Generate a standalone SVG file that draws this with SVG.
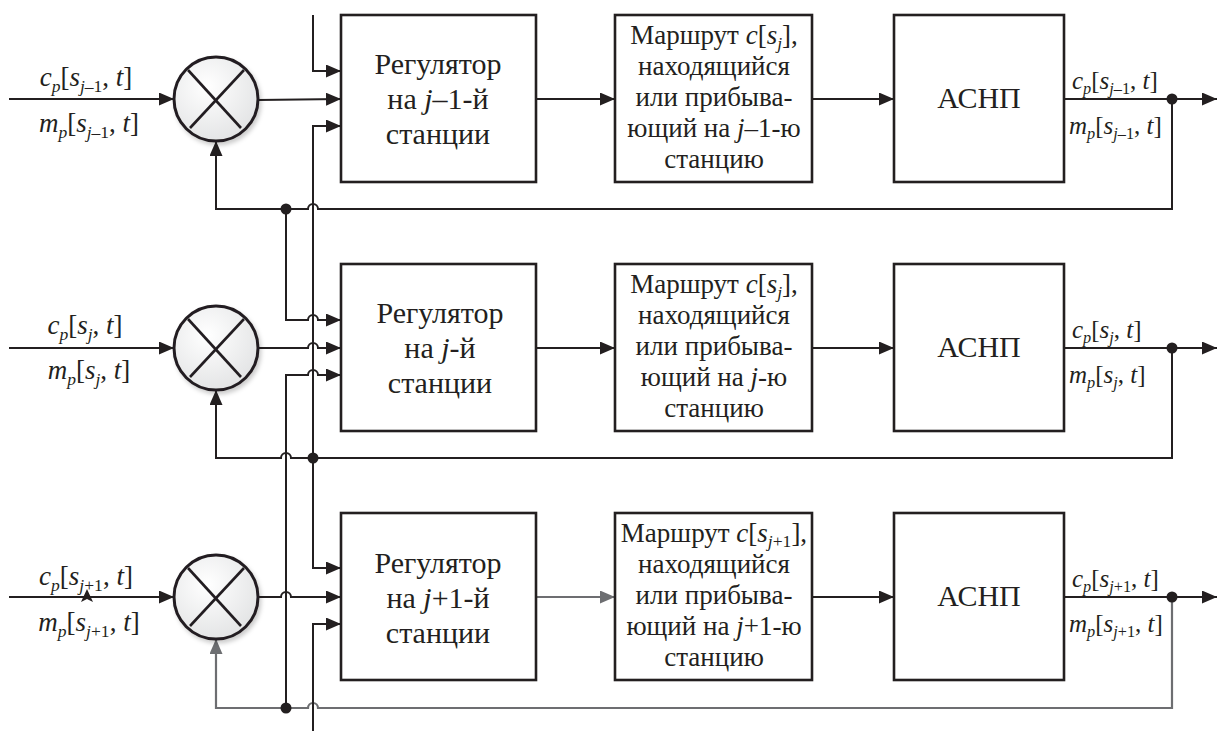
<svg xmlns="http://www.w3.org/2000/svg" width="1217" height="731" viewBox="0 0 1217 731">
<style>
.ln{fill:none;stroke:#231f20;stroke-width:2}
.gr{fill:none;stroke:#6d6e71;stroke-width:2.2}
.box{fill:#fff;stroke:#231f20;stroke-width:2.6}
.sum{fill:url(#sg);stroke:#231f20;stroke-width:3}
.x{stroke:#231f20;stroke-width:2.6}
.dot{fill:#231f20}
text{font-family:"Liberation Serif","Times New Roman",serif;fill:#231f20}
.reg{font-size:30px;text-anchor:middle}
.rt{font-size:27px;text-anchor:middle}
.as{font-size:30px;text-anchor:middle}
.lb{font-size:27px;text-anchor:middle}
.ob{font-size:25px}
.i{font-style:italic}
.sub{font-size:65%}
</style>
<defs>
<radialGradient id="sg" cx="40%" cy="35%" r="70%">
<stop offset="0" stop-color="#ffffff"/>
<stop offset="1" stop-color="#e2e3e4"/>
</radialGradient>
<filter id="sh" x="-20%" y="-20%" width="150%" height="150%">
<feDropShadow dx="2" dy="3" stdDeviation="2" flood-color="#000" flood-opacity="0.2"/>
</filter>
<marker id="a" markerUnits="userSpaceOnUse" markerWidth="15" markerHeight="13" refX="15" refY="6.5" orient="auto">
<path d="M0,0 L15,6.5 L0,13 z" fill="#231f20"/>
</marker>
<marker id="ag" markerUnits="userSpaceOnUse" markerWidth="15" markerHeight="13" refX="15" refY="6.5" orient="auto">
<path d="M0,0 L15,6.5 L0,13 z" fill="#6d6e71"/>
</marker>
</defs>
<rect width="1217" height="731" fill="#fff"/>

<g id="connectors">
<path class="ln" d="M9,99 H174" marker-end="url(#a)"/>
<path class="ln" d="M258,100 L341,99" marker-end="url(#a)"/>
<path class="ln" d="M536,99 H615" marker-end="url(#a)"/>
<path class="ln" d="M812,99 H894" marker-end="url(#a)"/>
<path class="ln" d="M1064,99 H1217" marker-end="url(#a)"/>
<path class="ln" d="M1172,99 V209 H318 A5,5 0 0 0 308,209 H216 V141" marker-end="url(#a)"/>
<path class="ln" d="M9,348 H174" marker-end="url(#a)"/>
<path class="ln" d="M258,348 H308 A5,5 0 0 1 318,348 H341" marker-end="url(#a)"/>
<path class="ln" d="M536,348 H615" marker-end="url(#a)"/>
<path class="ln" d="M812,348 H894" marker-end="url(#a)"/>
<path class="ln" d="M1064,348 H1217" marker-end="url(#a)"/>
<path class="ln" d="M1172,348 V458 H291 A5,5 0 0 0 281,458 H216 V390" marker-end="url(#a)"/>
<path class="ln" d="M9,597 H174" marker-end="url(#a)"/>
<polygon points="87,589 93,602 87,599 81,602" fill="#231f20"/>
<path class="ln" d="M258,597 H281 A5,5 0 0 1 291,597 H341" marker-end="url(#a)"/>
<path class="gr" d="M536,597 H615" marker-end="url(#ag)"/>
<path class="ln" d="M812,597 H894" marker-end="url(#a)"/>
<path class="ln" d="M1064,597 H1217" marker-end="url(#a)"/>
<path class="gr" d="M1172,597 V708 H318 A5,5 0 0 0 308,708 H216 V639" marker-end="url(#ag)"/>
<path class="ln" d="M313,15 V71 H341" marker-end="url(#a)"/>
<path class="ln" d="M313,458 V126 H341" marker-end="url(#a)"/>
<path class="ln" d="M313,458 V568 H341" marker-end="url(#a)"/>
<path class="ln" d="M286,209 V320 H308 A5,5 0 0 1 318,320 H341" marker-end="url(#a)"/>
<path class="ln" d="M286,708 V375 H308 A5,5 0 0 1 318,375 H341" marker-end="url(#a)"/>
<path class="ln" d="M313,731 V624 H341" marker-end="url(#a)"/>
<circle class="dot" cx="1172" cy="99" r="5.5"/>
<circle class="dot" cx="1172" cy="348" r="5.5"/>
<circle class="dot" cx="1172" cy="597" r="5.5"/>
<circle class="dot" cx="286" cy="209" r="5.5"/>
<circle class="dot" cx="313" cy="458" r="5.5"/>
<circle class="dot" cx="286" cy="708" r="5.5"/>
</g>

<g id="labels">
<text class="lb" x="86" y="86"><tspan class="i">c</tspan><tspan class="sub i" dy="6">p</tspan><tspan dy="-6">[</tspan><tspan class="i">s</tspan><tspan class="sub" dy="6"><tspan class="i">j</tspan>–1</tspan><tspan dy="-6">, </tspan><tspan class="i">t</tspan>]</text>
<text class="lb" x="89" y="132"><tspan class="i">m</tspan><tspan class="sub i" dy="6">p</tspan><tspan dy="-6">[</tspan><tspan class="i">s</tspan><tspan class="sub" dy="6"><tspan class="i">j</tspan>–1</tspan><tspan dy="-6">, </tspan><tspan class="i">t</tspan>]</text>
<text class="lb" x="85" y="334"><tspan class="i">c</tspan><tspan class="sub i" dy="6">p</tspan><tspan dy="-6">[</tspan><tspan class="i">s</tspan><tspan class="sub i" dy="6">j</tspan><tspan dy="-6">, </tspan><tspan class="i">t</tspan>]</text>
<text class="lb" x="89" y="379"><tspan class="i">m</tspan><tspan class="sub i" dy="6">p</tspan><tspan dy="-6">[</tspan><tspan class="i">s</tspan><tspan class="sub i" dy="6">j</tspan><tspan dy="-6">, </tspan><tspan class="i">t</tspan>]</text>
<text class="lb" x="86" y="585"><tspan class="i">c</tspan><tspan class="sub i" dy="6">p</tspan><tspan dy="-6">[</tspan><tspan class="i">s</tspan><tspan class="sub" dy="6"><tspan class="i">j</tspan>+1</tspan><tspan dy="-6">, </tspan><tspan class="i">t</tspan>]</text>
<text class="lb" x="89" y="631"><tspan class="i">m</tspan><tspan class="sub i" dy="6">p</tspan><tspan dy="-6">[</tspan><tspan class="i">s</tspan><tspan class="sub" dy="6"><tspan class="i">j</tspan>+1</tspan><tspan dy="-6">, </tspan><tspan class="i">t</tspan>]</text>
<text class="ob" x="1072" y="89"><tspan class="i">c</tspan><tspan class="sub i" dy="5">p</tspan><tspan dy="-5">[</tspan><tspan class="i">s</tspan><tspan class="sub" dy="5"><tspan class="i">j</tspan>–1</tspan><tspan dy="-5">, </tspan><tspan class="i">t</tspan>]</text>
<text class="ob" x="1069" y="134"><tspan class="i">m</tspan><tspan class="sub i" dy="5">p</tspan><tspan dy="-5">[</tspan><tspan class="i">s</tspan><tspan class="sub" dy="5"><tspan class="i">j</tspan>–1</tspan><tspan dy="-5">, </tspan><tspan class="i">t</tspan>]</text>
<text class="ob" x="1072" y="338"><tspan class="i">c</tspan><tspan class="sub i" dy="5">p</tspan><tspan dy="-5">[</tspan><tspan class="i">s</tspan><tspan class="sub i" dy="5">j</tspan><tspan dy="-5">, </tspan><tspan class="i">t</tspan>]</text>
<text class="ob" x="1069" y="383"><tspan class="i">m</tspan><tspan class="sub i" dy="5">p</tspan><tspan dy="-5">[</tspan><tspan class="i">s</tspan><tspan class="sub i" dy="5">j</tspan><tspan dy="-5">, </tspan><tspan class="i">t</tspan>]</text>
<text class="ob" x="1072" y="587"><tspan class="i">c</tspan><tspan class="sub i" dy="5">p</tspan><tspan dy="-5">[</tspan><tspan class="i">s</tspan><tspan class="sub" dy="5"><tspan class="i">j</tspan>+1</tspan><tspan dy="-5">, </tspan><tspan class="i">t</tspan>]</text>
<text class="ob" x="1069" y="632"><tspan class="i">m</tspan><tspan class="sub i" dy="5">p</tspan><tspan dy="-5">[</tspan><tspan class="i">s</tspan><tspan class="sub" dy="5"><tspan class="i">j</tspan>+1</tspan><tspan dy="-5">, </tspan><tspan class="i">t</tspan>]</text>
</g>

<g id="sum1" filter="url(#sh)">
<circle class="sum" cx="216" cy="99" r="42"/>
<line class="x" x1="188" y1="70" x2="241" y2="128"/>
<line class="x" x1="244" y1="70" x2="190" y2="128"/>
</g>
<g id="reg1">
<rect class="box" x="341" y="15" width="195" height="167"/>
<text class="reg" x="438" y="74">Регулятор</text>
<text class="reg" x="438" y="109">на <tspan class="i">j</tspan>–1-й</text>
<text class="reg" x="438" y="144">станции</text>
</g>
<g id="route1">
<rect class="box" x="615" y="15" width="197" height="167"/>
<text class="rt" x="714" y="44">Маршрут <tspan class="i">c</tspan>[<tspan class="i">s</tspan><tspan class="sub i" dy="5">j</tspan><tspan dy="-5">],</tspan></text>
<text class="rt" x="714" y="75">находящийся</text>
<text class="rt" x="714" y="106">или прибыва-</text>
<text class="rt" x="714" y="137">ющий на  <tspan class="i">j</tspan>–1-ю</text>
<text class="rt" x="714" y="168">станцию</text>
</g>
<g id="asnp1">
<rect class="box" x="894" y="15" width="170" height="167"/>
<text class="as" x="979" y="108">АСНП</text>
</g>

<g id="sum2" filter="url(#sh)">
<circle class="sum" cx="216" cy="348" r="42"/>
<line class="x" x1="188" y1="319" x2="241" y2="377"/>
<line class="x" x1="244" y1="319" x2="190" y2="377"/>
</g>
<g id="reg2">
<rect class="box" x="341" y="264" width="195" height="167"/>
<text class="reg" x="440" y="323">Регулятор</text>
<text class="reg" x="440" y="358">на <tspan class="i">j</tspan>-й</text>
<text class="reg" x="440" y="393">станции</text>
</g>
<g id="route2">
<rect class="box" x="615" y="264" width="197" height="167"/>
<text class="rt" x="714" y="293">Маршрут <tspan class="i">c</tspan>[<tspan class="i">s</tspan><tspan class="sub i" dy="5">j</tspan><tspan dy="-5">],</tspan></text>
<text class="rt" x="714" y="324">находящийся</text>
<text class="rt" x="714" y="355">или прибыва-</text>
<text class="rt" x="714" y="386">ющий на  <tspan class="i">j</tspan>-ю</text>
<text class="rt" x="714" y="417">станцию</text>
</g>
<g id="asnp2">
<rect class="box" x="894" y="264" width="170" height="167"/>
<text class="as" x="979" y="357">АСНП</text>
</g>

<g id="sum3" filter="url(#sh)">
<circle class="sum" cx="216" cy="597" r="42"/>
<line class="x" x1="188" y1="568" x2="241" y2="626"/>
<line class="x" x1="244" y1="568" x2="190" y2="626"/>
</g>
<g id="reg3">
<rect class="box" x="341" y="513" width="195" height="167"/>
<text class="reg" x="438" y="573">Регулятор</text>
<text class="reg" x="438" y="608">на <tspan class="i">j</tspan>+1-й</text>
<text class="reg" x="438" y="643">станции</text>
</g>
<g id="route3">
<rect class="box" x="615" y="513" width="197" height="167"/>
<text class="rt" x="714" y="542">Маршрут <tspan class="i">c</tspan>[<tspan class="i">s</tspan><tspan class="sub" dy="5"><tspan class="i">j</tspan>+1</tspan><tspan dy="-5">],</tspan></text>
<text class="rt" x="714" y="573">находящийся</text>
<text class="rt" x="714" y="604">или прибыва-</text>
<text class="rt" x="714" y="635">ющий на <tspan class="i">j</tspan>+1-ю</text>
<text class="rt" x="714" y="666">станцию</text>
</g>
<g id="asnp3">
<rect class="box" x="894" y="513" width="170" height="167"/>
<text class="as" x="979" y="606">АСНП</text>
</g>
</svg>
